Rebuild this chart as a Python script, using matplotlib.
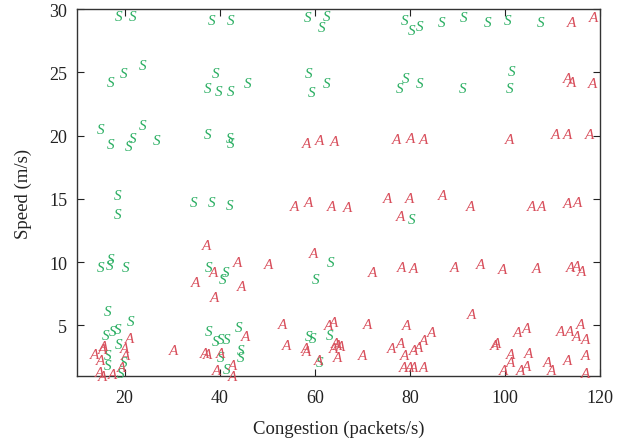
import matplotlib
matplotlib.use('Agg')
import matplotlib.pyplot as plt

# points labelled "S"
s_x = [18.7, 21.6, 38.4, 42.3, 17.1, 19.9, 23.7, 39.1, 37.5, 39.8, 42.4, 45.8,
       58.6, 62.6, 61.5, 78.9, 80.4, 82.0, 86.6, 58.7, 59.4, 62.6, 77.8, 79.2, 82.0,
       91.3, 96.3, 100.6, 107.4, 101.4, 91.2, 100.9,
       15.0, 17.1, 21.6, 20.9, 23.7, 26.7, 37.5, 42.1, 42.3,
       18.5, 18.5, 34.6, 38.4, 42.1, 80.3,
       15.0, 16.9, 17.1, 20.2, 37.6, 41.2, 40.6, 63.3, 60.1,
       16.4, 21.3, 16.0, 17.4, 18.6, 18.8, 16.4, 16.4, 19.9, 19.2,
       37.6, 43.9, 39.1, 40.2, 41.4, 40.2, 44.4, 44.5, 41.4,
       58.7, 59.6, 63.1, 61.0]
s_y = [29.4, 29.4, 29.1, 29.1, 24.2, 24.9, 25.5, 24.9, 23.7, 23.5, 23.5, 24.1,
       29.3, 29.4, 28.5, 29.1, 28.3, 28.6, 28.9, 24.9, 23.4, 24.1, 23.7, 24.5, 24.1,
       29.3, 28.9, 29.1, 28.9, 25.1, 23.7, 23.7,
       20.5, 19.3, 19.8, 19.1, 20.8, 19.6, 20.1, 19.8, 19.4,
       15.3, 13.8, 14.7, 14.7, 14.5, 13.4,
       9.6, 9.7, 10.2, 9.6, 9.6, 9.2, 8.6, 10.0, 8.6,
       6.1, 5.3, 4.2, 4.55, 4.7, 3.5, 2.6, 1.85, 2.1, 1.2,
       4.55, 4.8, 3.75, 3.9, 3.9, 2.5, 3.0, 2.45, 1.5,
       4.15, 4.0, 4.2, 2.05]

# points labelled "A"
a_x = [113.9, 118.6, 113.1, 114.1, 118.4,
       58.2, 61.0, 64.1, 77.1, 80.2, 82.9, 100.9, 110.7, 113.1, 117.7,
       55.7, 58.6, 63.6, 66.8, 75.2, 79.9, 86.9, 78.0, 92.8, 105.6, 107.7, 113.1, 115.3,
       37.2, 43.7, 59.8, 50.3, 38.8, 34.9, 44.6, 38.9,
       72.2, 78.3, 80.8, 89.3, 94.8, 99.5, 106.7, 113.7, 115.1, 116.2,
       21.1, 15.5, 15.3, 13.7, 20.0, 20.2, 15.0, 19.3, 14.8, 15.3, 17.4,
       45.4, 36.8, 37.4, 40.2, 30.4, 42.8, 39.3, 42.8,
       53.3, 62.9, 64.0, 71.1, 79.4, 84.6, 82.8, 54.0, 58.0, 58.2,
       64.3, 64.8, 65.5, 64.0, 64.8, 70.1, 60.8, 76.2, 78.1, 78.8, 80.8, 81.9,
       78.7, 79.9, 80.8, 82.9,
       93.0, 102.6, 104.6, 111.7, 113.6, 115.9, 115.1, 116.9, 97.9, 98.3,
       101.1, 101.2, 104.9, 108.9, 113.1, 117.0, 99.7, 103.3, 104.6, 109.9, 116.9]
a_y = [28.9, 29.3, 24.5, 24.2, 24.1,
       19.4, 19.6, 19.5, 19.7, 19.8, 19.7, 19.7, 20.1, 20.1, 20.1,
       14.4, 14.7, 14.4, 14.3, 15.0, 15.0, 15.3, 13.6, 14.4, 14.4, 14.4, 14.6, 14.7,
       11.3, 10.0, 10.7, 9.8, 9.2, 8.4, 8.1, 7.2,
       9.2, 9.6, 9.5, 9.6, 9.8, 9.4, 9.5, 9.6, 9.65, 9.25,
       3.95, 3.3, 3.1, 2.7, 3.2, 2.6, 2.2, 1.7, 1.3, 1.0, 1.1,
       4.1, 2.8, 2.7, 2.8, 3.05, 1.85, 1.4, 1.0,
       5.1, 5.0, 5.25, 5.1, 5.0, 4.4, 3.8, 3.4, 3.2, 2.9,
       3.6, 3.4, 3.35, 3.15, 2.5, 2.6, 2.2, 3.15, 3.6, 2.6, 3.0, 3.25,
       1.7, 1.65, 1.65, 1.65,
       5.9, 4.4, 4.75, 4.55, 4.55, 5.1, 4.15, 3.9, 3.4, 3.6,
       2.7, 2.1, 2.8, 2.1, 2.2, 2.6, 1.4, 1.4, 1.75, 1.4, 1.2]

plt.rcParams['font.family'] = ['Liberation Serif', 'DejaVu Serif']

fig = plt.figure(figsize=(6.27, 4.39), dpi=100)
ax = fig.add_axes([0.1228, 0.1412, 0.8342, 0.836])

for x, y in zip(s_x, s_y):
    ax.text(x, y, 'S', color='#2aae62', fontsize=11, style='italic',
            ha='center', va='center')
for x, y in zip(a_x, a_y):
    ax.text(x, y, 'A', color='#d84f5c', fontsize=11, style='italic',
            ha='center', va='center')

ax.set_xlim(10, 120)
ax.set_ylim(1, 30)
ax.set_xticks([20, 40, 60, 80, 100, 120])
ax.set_yticks([5, 10, 15, 20, 25, 30])
ax.tick_params(direction='in', top=True, right=True, labelsize=13,
               length=5, colors='#222222')
ax.tick_params(axis='x', pad=9)
ax.tick_params(axis='y', pad=7)
for sp in ax.spines.values():
    sp.set_color('#333333')
    sp.set_linewidth(1.0)
ax.set_xlabel('Congestion (packets/s)', fontsize=13.5, color='#222222', labelpad=10)
ax.set_ylabel('Speed (m/s)', fontsize=13.5, color='#222222', labelpad=12)

fig.savefig('out.png', dpi=100)
